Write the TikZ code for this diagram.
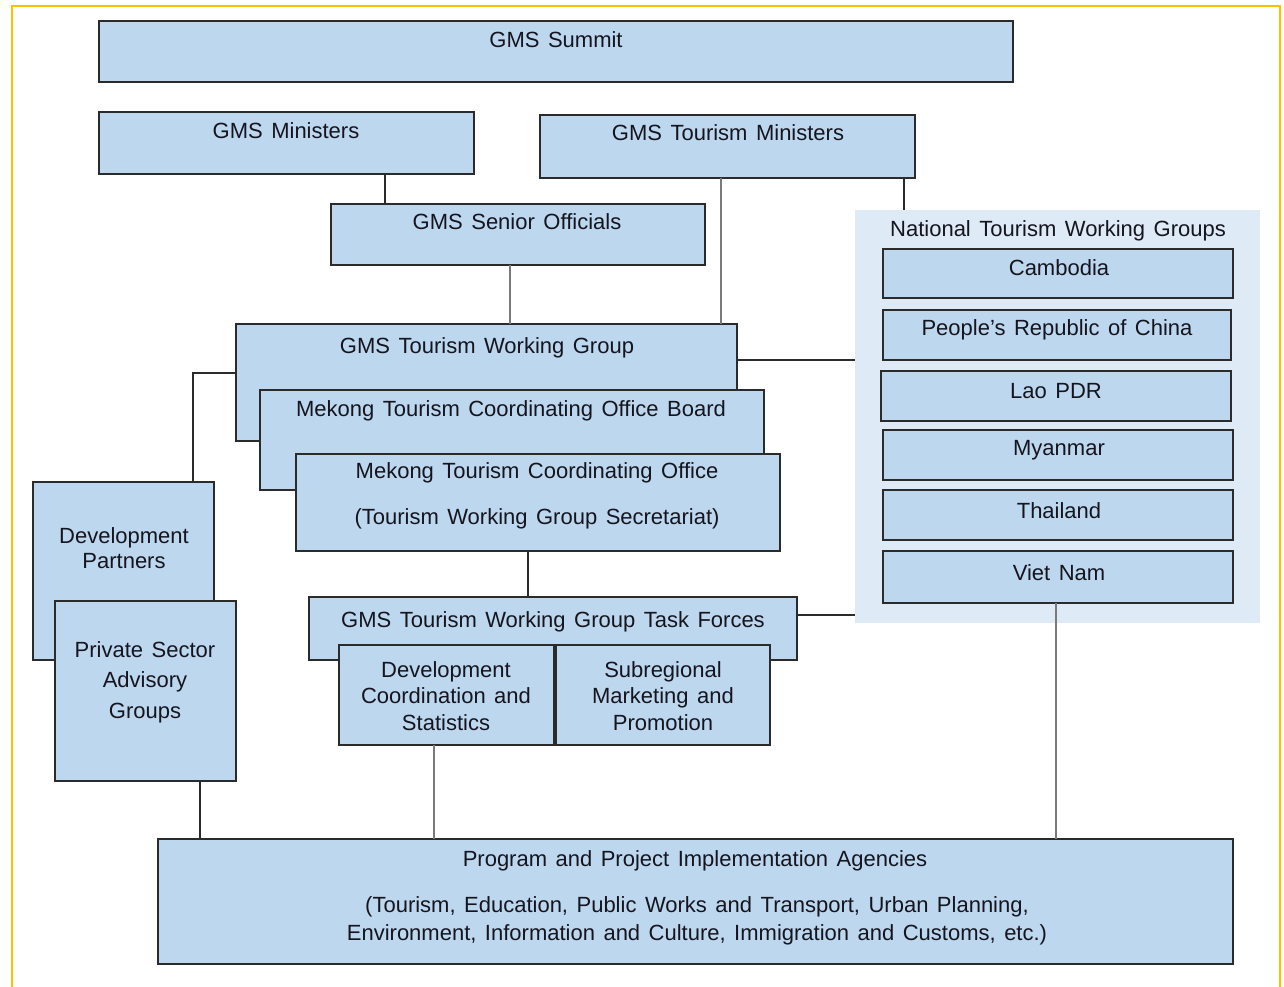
\documentclass[tikz,border=0pt]{standalone}
\usepackage{fontspec}
\setmainfont{Liberation Sans}
\definecolor{boxfill}{HTML}{BDD7EE}
\definecolor{panelfill}{HTML}{DEEAF6}
\definecolor{boxline}{HTML}{2B2B2B}
\definecolor{txtcol}{HTML}{15151F}
\definecolor{frameyellow}{HTML}{FFC000}
\definecolor{greyline}{HTML}{7A7A7A}
\newcommand\bx[6][box]{%
  \pgfmathsetmacro\bw{#5-#3}\pgfmathsetmacro\bh{#6-#4}%
  \node[#1, minimum width=\bw pt, minimum height=\bh pt] (#2) at ({(#3+#5)/2},{(#4+#6)/2}) {};}
\newcommand\myfont[1]{\fontsize{22}{#1}\selectfont\spaceskip=8.5pt plus 1pt minus 1pt\relax}
\begin{document}
\begin{tikzpicture}[x=1pt,y=-1pt,
  box/.style={draw=boxline, fill=boxfill, line width=2pt, inner sep=0pt, outer sep=0pt, rectangle},
  panel/.style={fill=panelfill, draw=none, inner sep=0pt, outer sep=0pt, rectangle},
  txt/.style={text=txtcol, inner sep=0pt, align=center, font=\myfont{27}},
  conn/.style={draw=boxline, line width=2pt},
  gconn/.style={draw=greyline, line width=2pt}]
\useasboundingbox (0,0) rectangle (1284,986);
\fill[white] (0,0) rectangle (1284,986);
\draw[frameyellow, line width=2.5pt] (12,990) -- (12,6) -- (1280,6) -- (1280,990);

% panel
\bx[panel]{ntwg}{855}{210}{1260}{623}

\coordinate (c1) at (193,373);
\bx{sum}{99}{21}{1013}{82}
\bx{min}{99}{112}{474}{174}
\bx{tmin}{540}{115}{915}{178}
\bx{sen}{331}{204}{705}{265}

\bx{cam}{883}{249}{1233}{298}
\bx{prc}{883}{310}{1231}{360}
\bx{lao}{881}{371}{1231}{421}
\bx{mya}{883}{430}{1233}{480}
\bx{tha}{883}{490}{1233}{540}
\bx{vie}{883}{551}{1233}{603}

\bx{twg}{236}{324}{737}{441}
\bx{mtcob}{260}{390}{764}{490}
\bx{mtco}{296}{454}{780}{551}

\bx{dp}{33}{482}{214}{660}
\bx{psa}{55}{601}{236}{781}

\bx{tf}{309}{597}{797}{660}
\bx{dcs}{339}{645}{554}{745}
\bx{smp}{556}{645}{770}{745}

\bx{ppia}{158}{839}{1233}{964}

% connectors
\draw[conn] (min.south -| 385,0) -- (sen.north -| 385,0);
\draw[gconn] (tmin.south -| 721,0) -- (twg.north -| 721,0);
\draw[conn] (tmin.south -| 904,0) -- (ntwg.north -| 904,0);
\draw[gconn] (sen.south -| 510,0) -- (twg.north -| 510,0);
\draw[conn] (twg.east |- 0,360) -- (ntwg.west |- 0,360);
\draw[conn] (twg.west |- c1) -- (c1) -- (dp.north -| c1);
\draw[conn] (mtco.south -| 528,0) -- (tf.north -| 528,0);
\draw[conn] (tf.east |- 0,615) -- (ntwg.west |- 0,615);
\draw[gconn] (dcs.south -| 434,0) -- (ppia.north -| 434,0);
\draw[conn] (psa.south -| 200,0) -- (ppia.north -| 200,0);
\draw[gconn] (vie.south -| 1056,0) -- (ppia.north -| 1056,0);

% texts
\node[txt] (t-sum) at (556,40) {GMS Summit};
\node[txt] (t-min) at (286,131) {GMS Ministers};
\node[txt] (t-tmin) at (728,133) {GMS Tourism Ministers};
\node[txt] (t-sen) at (517,222) {GMS Senior Officials};
\node[txt] (t-ntwg) at (1058,231) {National Tourism Working Groups};
\node[txt] (t-cam) at (1059,268) {Cambodia};
\node[txt] (t-prc) at (1057,330) {People’s Republic of China};
\node[txt] (t-lao) at (1056,391) {Lao PDR};
\node[txt] (t-mya) at (1059,450) {Myanmar};
\node[txt] (t-tha) at (1059,511) {Thailand};
\node[txt] (t-vie) at (1059,573) {Viet Nam};
\node[txt] (t-twg) at (487,348) {GMS Tourism Working Group};
\node[txt] (t-mtcob) at (511,411) {Mekong Tourism Coordinating Office Board};
\node[txt] (t-mtco1) at (537,473) {Mekong Tourism Coordinating Office};
\node[txt] (t-mtco2) at (537,519) {(Tourism Working Group Secretariat)};
\node[txt, font=\myfont{25}] (t-dp) at (124,548) {Development\\Partners};
\node[txt, font=\myfont{30.5}] (t-psa) at (145,682) {Private Sector\\Advisory\\Groups};
\node[txt] (t-tf) at (553,622) {GMS Tourism Working Group Task Forces};
\node[txt, font=\myfont{26.5}] (t-dcs) at (446,696) {Development\\Coordination and\\Statistics};
\node[txt, font=\myfont{26.5}] (t-smp) at (663,696) {Subregional\\Marketing and\\Promotion};
\node[txt] (t-ppia1) at (695,861) {Program and Project Implementation Agencies};
\node[txt, font=\myfont{28}] (t-ppia2) at (697,921) {(Tourism, Education, Public Works and Transport, Urban Planning,\\Environment, Information and Culture, Immigration and Customs, etc.)};
\end{tikzpicture}
\end{document}
